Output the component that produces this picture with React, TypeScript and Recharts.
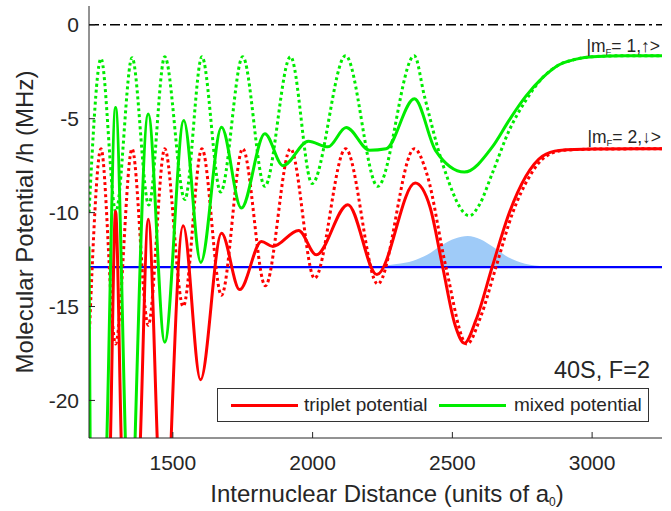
import React from 'react';
import { ComposedChart, Line, Area, XAxis, YAxis } from 'recharts';

// axis ranges and ticks
const xDomain: [number, number] = [1200, 3250];
const yDomain: [number, number] = [-22, 1];
const xTicks = [1500, 2000, 2500, 3000];
const yTicks = [-20, -15, -10, -5, 0];

// bound state energy and the dissociation threshold
const boundLevel = -12.9;
const thresholdLevel = 0;

// [distance, potential]; values below -22 run off the axes
const tripletSolid: [number, number][] = [
  [1200, -40], [1250, -40], [1277, -22], [1295, -9.94], [1315, -22], [1345, -40],
  [1384, -22], [1412, -10.35], [1444, -22], [1470, -34], [1494, -22], [1537, -10.7],
  [1599, -18.9], [1674, -11.1], [1739, -14.1], [1817, -11.54], [1858, -11.8],
  [1950, -10.95], [2013, -12.25], [2126, -9.58], [2230, -13.3], [2367, -8.43],
  [2420, -9.7], [2465, -12.87], [2510, -16.0], [2543, -16.95], [2585, -15.7],
  [2643, -12.87], [2704, -10.0], [2763, -8.07], [2822, -7.0], [2882, -6.69],
  [3001, -6.62], [3250, -6.6],
];

const tripletDotted: [number, number][] = [
  [1200, -16.9], [1243, -6.6], [1295, -17.0], [1354, -6.6], [1412, -16.0],
  [1471, -6.6], [1537, -15.0], [1604, -6.6], [1674, -14.4], [1750, -6.6],
  [1831, -13.9], [1921, -6.6], [2007, -13.5], [2118, -6.6], [2233, -13.8],
  [2364, -6.6], [2410, -8.0], [2477, -12.9], [2552, -17.0], [2600, -15.6],
  [2656, -12.9], [2716, -10.0], [2775, -8.1], [2835, -7.0], [2900, -6.68],
  [3010, -6.62], [3250, -6.6],
];

const mixedSolid: [number, number][] = [
  [1200, -11.8], [1204, -22], [1230, -40], [1264, -22], [1295, -4.4], [1330, -22],
  [1348, -32], [1365, -22], [1412, -4.75], [1471, -16.9], [1539, -5.1],
  [1600, -12.65], [1674, -5.45], [1745, -9.76], [1829, -5.8], [1894, -7.5],
  [1985, -6.2], [2055, -6.5], [2120, -5.47], [2204, -6.68], [2263, -6.6],
  [2364, -3.94], [2440, -6.7], [2543, -7.84], [2643, -6.5], [2704, -5.06],
  [2763, -3.8], [2822, -2.83], [2882, -2.13], [2943, -1.83], [3001, -1.7],
  [3121, -1.65], [3250, -1.65],
];

const mixedDotted: [number, number][] = [
  [1200, -10.0], [1243, -1.8], [1296, -9.95], [1354, -1.75], [1414, -9.6],
  [1471, -1.7], [1543, -9.3], [1604, -1.7], [1671, -8.9], [1750, -1.7],
  [1829, -8.6], [1921, -1.7], [1998, -8.45], [2118, -1.65], [2233, -8.6],
  [2364, -1.65], [2400, -3.8], [2465, -7.4], [2561, -10.17], [2596, -9.6],
  [2643, -7.9], [2704, -5.6], [2764, -4.0], [2822, -2.83], [2882, -2.13],
  [2943, -1.83], [3001, -1.7], [3121, -1.65], [3250, -1.65],
];

// bound state probability density drawn on top of its energy level
const boundDensity: [number, number][] = [
  [2150, -12.9], [2250, -12.84], [2300, -12.74], [2360, -12.56], [2410, -12.25],
  [2460, -11.75], [2510, -11.38], [2555, -11.25], [2600, -11.42], [2645, -11.82],
  [2700, -12.38], [2760, -12.72], [2830, -12.86], [2900, -12.9],
];

const pts = (arr: [number, number][]) => arr.map(([x, y]) => ({ x, y }));
const levelLine = (y: number) => [{ x: xDomain[0], y }, { x: xDomain[1], y }];

const RED = '#ff0000';
const GREEN = '#00ec00';
const BLUE = '#0000ff';
const AXIS = '#262626';
const FONT = "'Liberation Sans', Arial, Helvetica, sans-serif";

const App: React.FC = () => {
  return (
    <div
      style={{
        position: 'absolute', left: 0, top: 0, width: 671, height: 511,
        background: '#fff', fontFamily: FONT, color: AXIS,
      }}
    >
      <ComposedChart width={671} height={511} margin={{ top: 6, right: 9, bottom: 0, left: 0 }}>
        <XAxis
          xAxisId="b" type="number" dataKey="x" domain={xDomain} ticks={xTicks}
          allowDataOverflow interval={0} height={73} tickSize={-6} tickMargin={23}
          stroke={AXIS} tick={{ fontSize: 21, fill: AXIS, fontFamily: FONT }}
        />
        <XAxis
          xAxisId="t" orientation="top" type="number" dataKey="x" domain={xDomain}
          ticks={xTicks} allowDataOverflow interval={0} height={0} tickSize={-6}
          stroke={AXIS} tick={false}
        />
        <YAxis
          yAxisId="l" type="number" domain={yDomain} ticks={yTicks} allowDataOverflow
          interval={0} width={89} tickSize={-6} tickMargin={16} stroke={AXIS}
          tick={{ fontSize: 21, fill: AXIS, fontFamily: FONT }}
        />
        <YAxis
          yAxisId="r" orientation="right" type="number" domain={yDomain} ticks={yTicks}
          allowDataOverflow interval={0} width={0} tickSize={-6} stroke={AXIS} tick={false}
        />

        <Area
          xAxisId="b" yAxisId="l" data={pts(boundDensity)} dataKey="y" type="monotone"
          baseValue={boundLevel} fill="#9fcbf8" fillOpacity={1} stroke="none"
          isAnimationActive={false}
        />
        <Line
          xAxisId="b" yAxisId="l" data={levelLine(boundLevel)} dataKey="y" stroke={BLUE}
          strokeWidth={2.2} dot={false} isAnimationActive={false}
        />
        <Line
          xAxisId="b" yAxisId="l" data={levelLine(thresholdLevel)} dataKey="y" stroke="#000"
          strokeWidth={1.5} strokeDasharray="10 4 3 4" dot={false} isAnimationActive={false}
        />
        <Line
          xAxisId="b" yAxisId="l" data={pts(tripletDotted)} dataKey="y" type="monotone"
          stroke={RED} strokeWidth={3} strokeDasharray="3 3" dot={false} isAnimationActive={false}
        />
        <Line
          xAxisId="b" yAxisId="l" data={pts(mixedDotted)} dataKey="y" type="monotone"
          stroke={GREEN} strokeWidth={3} strokeDasharray="3 3" dot={false} isAnimationActive={false}
        />
        <Line
          xAxisId="b" yAxisId="l" data={pts(tripletSolid)} dataKey="y" type="monotone"
          stroke={RED} strokeWidth={3} dot={false} isAnimationActive={false}
        />
        <Line
          xAxisId="b" yAxisId="l" data={pts(mixedSolid)} dataKey="y" type="monotone"
          stroke={GREEN} strokeWidth={3} dot={false} isAnimationActive={false}
        />
      </ComposedChart>

      {/* axis titles */}
      <div
        style={{
          position: 'absolute', left: 24.7, top: 221.5, fontSize: 24, lineHeight: '24px',
          whiteSpace: 'nowrap', transform: 'translate(-50%, -50%) rotate(-90deg)',
        }}
      >
        Molecular Potential /h (MHz)
      </div>
      <div
        style={{
          position: 'absolute', left: 387, top: 482, fontSize: 24, lineHeight: '24px',
          whiteSpace: 'nowrap', transform: 'translateX(-50%)',
        }}
      >
        Internuclear Distance (units of a<span style={{ fontSize: 12, verticalAlign: -4 }}>0</span>)
      </div>

      {/* state labels */}
      <div style={{ position: 'absolute', right: 11, top: 37, fontSize: 17.5, lineHeight: '18px', whiteSpace: 'nowrap' }}>
        |m<span style={{ fontSize: 9.5, verticalAlign: -3 }}>F</span>= 1,↑&gt;
      </div>
      <div style={{ position: 'absolute', right: 10, top: 128, fontSize: 17.5, lineHeight: '18px', whiteSpace: 'nowrap' }}>
        |m<span style={{ fontSize: 9.5, verticalAlign: -3 }}>F</span>= 2,↓&gt;
      </div>

      <div style={{ position: 'absolute', right: 21, top: 358.6, fontSize: 23.5, lineHeight: '23.5px', whiteSpace: 'nowrap' }}>
        40S, F=2
      </div>

      {/* legend */}
      <div
        style={{
          position: 'absolute', left: 217, top: 388, width: 430, height: 32,
          border: '1px solid #333', background: '#fff', fontSize: 19,
        }}
      >
        <div style={{ position: 'absolute', left: 13, top: 14.5, width: 67, height: 3, background: RED }} />
        <div style={{ position: 'absolute', left: 86, top: 5, lineHeight: '22px', whiteSpace: 'nowrap' }}>triplet potential</div>
        <div style={{ position: 'absolute', left: 221, top: 14.5, width: 67, height: 3, background: GREEN }} />
        <div style={{ position: 'absolute', left: 296, top: 5, lineHeight: '22px', whiteSpace: 'nowrap' }}>mixed potential</div>
      </div>
    </div>
  );
};

export default App;
